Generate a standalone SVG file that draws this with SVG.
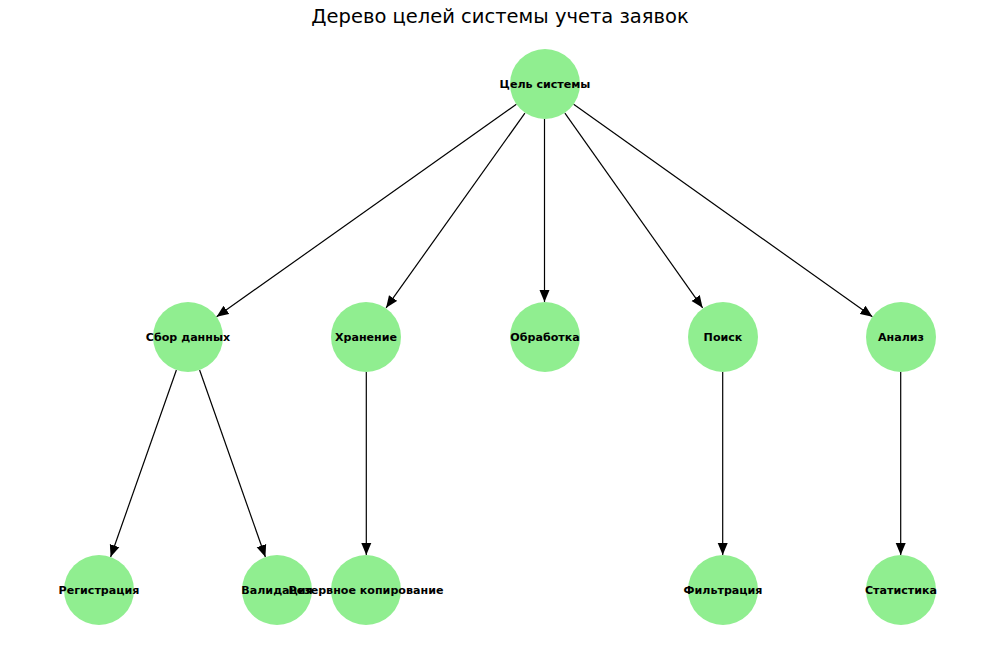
<svg xmlns="http://www.w3.org/2000/svg" width="1000" height="655" viewBox="0 0 1000 655">
<defs>
<style>
.node circle{fill:#90EE90;stroke:none}
.node text{font-family:"DejaVu Sans","Noto Sans",sans-serif;font-size:11.1px;font-weight:bold;fill:#000;text-anchor:middle}
.edge{stroke:#000;stroke-width:1.2;fill:none;marker-end:url(#arr)}
.title{font-family:"DejaVu Sans","Noto Sans",sans-serif;font-size:19.5px;fill:#000;text-anchor:middle}
</style>
<marker id="arr" markerUnits="userSpaceOnUse" markerWidth="13" markerHeight="11" viewBox="0 -5.5 13 11" refX="12" refY="0" orient="auto">
<path d="M0,-5 L12,0 L0,5 z" fill="#000"/>
</marker>
</defs>
<rect width="1000" height="655" fill="#fff"/>
<text class="title" x="500" y="23">Дерево целей системы учета заявок</text>
<g id="connectors">
<line class="edge" x1="516.4" y1="104.2" x2="216.6" y2="316.8"/>
<line class="edge" x1="524.9" y1="113.2" x2="386.1" y2="307.8"/>
<line class="edge" x1="544.5" y1="119" x2="544.5" y2="302"/>
<line class="edge" x1="564.9" y1="113.2" x2="702.6" y2="307.8"/>
<line class="edge" x1="573.6" y1="104.2" x2="872.4" y2="316.8"/>
<line class="edge" x1="176.4" y1="370" x2="110.6" y2="557"/>
<line class="edge" x1="199.6" y1="370" x2="265.4" y2="557"/>
<line class="edge" x1="366.3" y1="372" x2="366.3" y2="555"/>
<line class="edge" x1="722.7" y1="372" x2="722.7" y2="555"/>
<line class="edge" x1="900.7" y1="372" x2="900.7" y2="555"/>
</g>
<g id="n-root" class="node"><circle cx="545" cy="84" r="35"/><text x="545" y="88">Цель системы</text></g>
<g id="n-sbor" class="node"><circle cx="188" cy="337" r="35"/><text x="188" y="341">Сбор данных</text></g>
<g id="n-hran" class="node"><circle cx="366" cy="337" r="35"/><text x="366" y="341">Хранение</text></g>
<g id="n-obr" class="node"><circle cx="545" cy="337" r="35"/><text x="545" y="341">Обработка</text></g>
<g id="n-poisk" class="node"><circle cx="723" cy="337" r="35"/><text x="723" y="341">Поиск</text></g>
<g id="n-analiz" class="node"><circle cx="901" cy="337" r="35"/><text x="901" y="341">Анализ</text></g>
<g id="n-reg" class="node"><circle cx="99" cy="590" r="35"/><text x="99" y="594">Регистрация</text></g>
<g id="n-val" class="node"><circle cx="277" cy="590" r="35"/><text x="277" y="594">Валидация</text></g>
<g id="n-rez" class="node"><circle cx="366" cy="590" r="35"/><text x="366" y="594">Резервное копирование</text></g>
<g id="n-filt" class="node"><circle cx="723" cy="590" r="35"/><text x="723" y="594">Фильтрация</text></g>
<g id="n-stat" class="node"><circle cx="901" cy="590" r="35"/><text x="901" y="594">Статистика</text></g>
</svg>
